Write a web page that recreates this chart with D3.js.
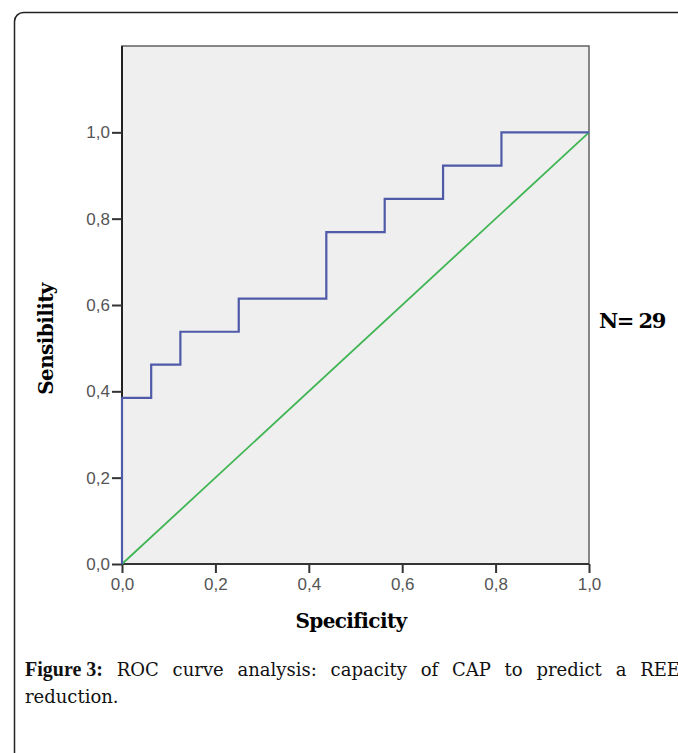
<!DOCTYPE html>
<html>
<head>
<meta charset="utf-8">
<script src="https://cdn.jsdelivr.net/npm/d3@7"></script>
<style>
  body { margin: 0; background: #fff; }
  svg { display: block; }
</style>
</head>
<body>
<div id="chart"></div>
<script>
// ROC curve points (1 - specificity on x, sensitivity on y)
var roc_x = [0, 0, 0.0625, 0.0625, 0.125, 0.125, 0.25, 0.25, 0.4375, 0.4375, 0.5625, 0.5625, 0.6875, 0.6875, 0.8125, 0.8125, 1.0];
var roc_y = [0, 0.385, 0.385, 0.462, 0.462, 0.538, 0.538, 0.615, 0.615, 0.769, 0.769, 0.846, 0.846, 0.923, 0.923, 1.0, 1.0];
var ref_x = [0, 1];
var ref_y = [0, 1];
var x_ticks = [0, 0.2, 0.4, 0.6, 0.8, 1.0];
var y_ticks = [0, 0.2, 0.4, 0.6, 0.8, 1.0];
var n_label = "N= 29";
var caption_bold = "Figure 3:";
var caption_line1 = "ROC curve analysis: capacity of CAP to predict a REE";
var caption_line2 = "reduction.";

var width = 678,
    height = 753,
    plot = {left: 122, right: 589, top: 46, bottom: 564},
    curve_color = "#4f5aa8",
    diag_color = "#3fb553",
    title_font = "'DejaVu Serif', serif",
    fmt = function(d) { return d3.format(".1f")(d).replace(".", ","); };

var svg = d3.select("#chart").append("svg")
    .attr("width", width)
    .attr("height", height);

// outer rounded frame of the figure box (runs off the page to the right/bottom)
svg.append("rect")
    .attr("x", 14.5).attr("y", 12.5)
    .attr("width", 700).attr("height", 800)
    .attr("rx", 9).attr("ry", 9)
    .style("fill", "#fff")
    .style("stroke", "#222")
    .style("stroke-width", 1.5);

var x = d3.scaleLinear().domain([0, 1]).range([plot.left, plot.right]);
var y = d3.scaleLinear().domain([0, 1.2]).range([plot.bottom, plot.top]);

// plot background
svg.append("rect")
    .attr("x", plot.left).attr("y", plot.top)
    .attr("width", plot.right - plot.left)
    .attr("height", plot.bottom - plot.top)
    .style("fill", "#efefef")
    .style("stroke", "#6a6a6a")
    .style("stroke-width", 1.6);

// axes
var xAxis = svg.append("g")
    .attr("transform", "translate(0," + plot.bottom + ")")
    .call(d3.axisBottom(x).tickValues(x_ticks).tickFormat(fmt).tickSize(9).tickPadding(5));

var yAxis = svg.append("g")
    .attr("transform", "translate(" + plot.left + ",0)")
    .call(d3.axisLeft(y).tickValues(y_ticks).tickFormat(fmt).tickSize(10).tickPadding(2));

[xAxis, yAxis].forEach(function(ax) {
    ax.select(".domain").style("stroke", "#333").style("stroke-width", 2);
    ax.selectAll(".tick line").style("stroke", "#333").style("stroke-width", 2);
    ax.selectAll(".tick text")
        .style("font-family", "'Liberation Sans', Arial, sans-serif")
        .style("font-size", "17px")
        .style("fill", "#555");
});
yAxis.select(".domain").attr("d", "M0," + plot.bottom + "V" + plot.top).style("stroke", "#222");
xAxis.select(".domain").attr("d", "M" + plot.left + ",0H" + plot.right);

// reference diagonal
var line = d3.line()
    .x(function(d) { return x(d[0]); })
    .y(function(d) { return y(d[1]); });

svg.append("path")
    .datum(d3.zip(ref_x, ref_y))
    .attr("d", line)
    .style("fill", "none")
    .style("stroke", diag_color)
    .style("stroke-width", 1.8);

// ROC step curve
svg.append("path")
    .datum(d3.zip(roc_x, roc_y))
    .attr("d", line)
    .style("fill", "none")
    .style("stroke", curve_color)
    .style("stroke-width", 2.2);

// axis titles
svg.append("text")
    .attr("x", 351)
    .attr("y", 628)
    .attr("text-anchor", "middle")
    .style("font-family", title_font)
    .style("font-weight", "bold")
    .style("font-size", "20px")
    .style("letter-spacing", "-0.6px")
    .text("Specificity");

svg.append("text")
    .attr("transform", "translate(53,339) rotate(-90)")
    .attr("text-anchor", "middle")
    .style("font-family", title_font)
    .style("font-weight", "bold")
    .style("font-size", "20px")
    .style("letter-spacing", "-0.6px")
    .text("Sensibility");

svg.append("text")
    .attr("x", 599)
    .attr("y", 328)
    .style("font-family", title_font)
    .style("font-weight", "bold")
    .style("font-size", "21px")
    .style("letter-spacing", "-1.5px")
    .text(n_label);

// caption, first line justified across the box
var cap_font = "'DejaVu Serif', serif",
    cap_size = "18px",
    cap_left = 25,
    cap_right = 680;

var words = [{t: caption_bold, bold: true}].concat(caption_line1.split(" ").map(function(w) { return {t: w, bold: false}; }));
var cap = svg.append("g");
var nodes = words.map(function(w) {
    return cap.append("text")
        .attr("y", 676)
        .style("font-family", w.bold ? "'Liberation Serif', serif" : cap_font)
        .style("font-size", w.bold ? "20px" : cap_size)
        .style("font-weight", w.bold ? "bold" : "normal")
        .style("fill", "#111")
        .text(w.t);
});
var total = d3.sum(nodes, function(n) { return n.node().getComputedTextLength(); });
var gap = (cap_right - cap_left - total) / (nodes.length - 1);
var cx = cap_left;
nodes.forEach(function(n) {
    n.attr("x", cx);
    cx += n.node().getComputedTextLength() + gap;
});

svg.append("text")
    .attr("x", cap_left)
    .attr("y", 703)
    .style("font-family", cap_font)
    .style("font-size", cap_size)
    .style("fill", "#111")
    .text(caption_line2);
</script>
</body>
</html>
